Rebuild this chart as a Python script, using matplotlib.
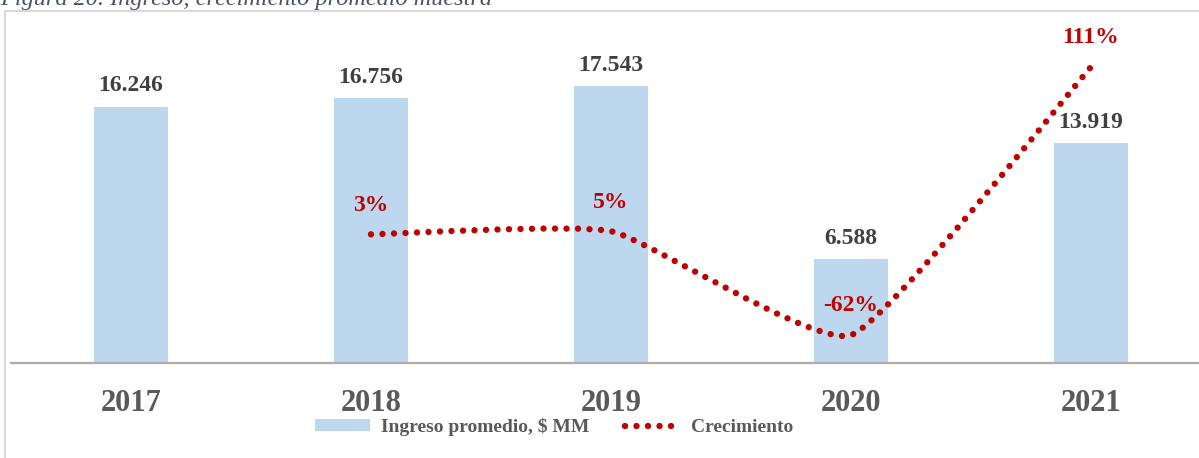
import matplotlib.pyplot as plt
from matplotlib.path import Path
from matplotlib.patches import PathPatch, Rectangle
from matplotlib.lines import Line2D
from matplotlib.patches import Patch

years = ["2017", "2018", "2019", "2020", "2021"]
ingreso = [16246, 16756, 17543, 6588, 13919]  # $ MM
crec_years = [1, 2, 3, 4]  # index into years
crecimiento = [3, 5, -62, 111]  # %

BAR = "#BDD7EE"
RED = "#C00000"
GRAY = "#595959"
DARK = "#404040"
SERIF = ["Liberation Serif", "DejaVu Serif"]

W, H = 1199, 458
fig = plt.figure(figsize=(W / 100, H / 100), dpi=100)

# frame around the chart (only left + top visible in the crop)
fig.patches.append(Rectangle((5 / W, -0.2), 1.2, 1 - 11 / H + 0.2, transform=fig.transFigure,
                             fill=False, edgecolor="#D9D9D9", linewidth=1.5))
fig.text(0.0, 1 - 5 / H, "Figura 20. Ingreso, crecimiento promedio muestra", family=SERIF,
         style="italic", fontsize=17.5, color="#44546A", va="baseline", ha="left")

ax = fig.add_axes([11 / W, 1 - 363 / H, 1 - 11 / W, (363 - 22) / H])
x = list(range(len(years)))
ax.bar(x, ingreso, width=0.31, color=BAR, zorder=2)
ax.set_xlim(-0.5, -0.5 + (W - 11) / 240)
ax.set_ylim(0, 21600)
ax.set_yticks([])
ax.set_xticks(x)
ax.set_xticklabels(years, family=SERIF, fontsize=22, fontweight="bold", color=GRAY)
ax.tick_params(axis="x", length=0, pad=19)
for s in ["top", "right", "left"]:
    ax.spines[s].set_visible(False)
ax.spines["bottom"].set_color("#ADADAD")
ax.spines["bottom"].set_linewidth(1.6)
ax.patch.set_visible(False)

for xi, v in zip(x, ingreso):
    lab = f"{v:,}".replace(",", ".")
    ax.annotate(lab, (xi, v), xytext=(0, 11), textcoords="offset points", ha="center",
                va="baseline", family=SERIF, fontsize=17, fontweight="bold", color=DARK)

ax2 = ax.twinx()
ax2.set_ylim(-80, 140)
ax2.set_yticks([])
for s in ax2.spines.values():
    s.set_visible(False)

# smoothed line (bezier through the data points, like the spreadsheet's smooth line)
pts = list(zip(crec_years, crecimiento))
k = 0.45 / 6
verts = [pts[0]]
codes = [Path.MOVETO]
n = len(pts)
for i in range(n - 1):
    p_prev = pts[max(i - 1, 0)]
    p0, p1 = pts[i], pts[i + 1]
    p_next = pts[min(i + 2, n - 1)]
    c1 = (p0[0] + (p1[0] - p_prev[0]) * k, p0[1] + (p1[1] - p_prev[1]) * k)
    c2 = (p1[0] - (p_next[0] - p0[0]) * k, p1[1] - (p_next[1] - p0[1]) * k)
    verts += [c1, c2, p1]
    codes += [Path.CURVE4] * 3
dots = (0, (0.001, 1.8))
ax2.add_patch(PathPatch(Path(verts, codes), fill=False, edgecolor=RED, linewidth=4.6,
                        linestyle=dots, capstyle="round", zorder=3))

for xi, v in pts:
    ax2.annotate(f"{v}%", (xi, v), xytext=(0, 17), textcoords="offset points", ha="center",
                 va="baseline", family=SERIF, fontsize=17, fontweight="bold", color=RED)

handles = [Patch(facecolor=BAR, edgecolor="none"),
           Line2D([], [], color=RED, linewidth=4.6, linestyle=dots, dash_capstyle="round")]
leg = fig.legend(handles, ["Ingreso promedio, $ MM", "Crecimiento"], loc="center",
                 bbox_to_anchor=(554 / W, 1 - 427 / H), ncol=2, frameon=False,
                 prop={"family": SERIF, "size": 14, "weight": "bold"},
                 handlelength=2.8, handleheight=0.55, handletextpad=0.6, columnspacing=1.8)
for t in leg.get_texts():
    t.set_color(GRAY)

fig.savefig("out.png", dpi=100)
